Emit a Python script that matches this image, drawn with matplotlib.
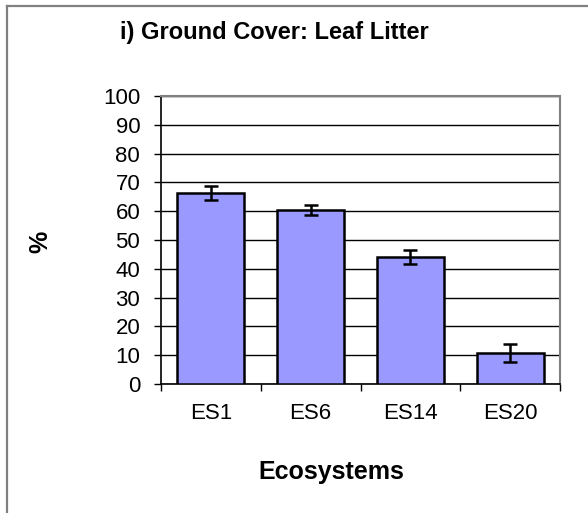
import numpy as np
import matplotlib.pyplot as plt
from matplotlib.lines import Line2D

# Data
categories = ["ES1", "ES6", "ES14", "ES20"]
values = [66.2, 60.4, 44.2, 10.8]
errors = [2.4, 1.6, 2.4, 3.0]
yticks = list(range(0, 101, 10))

plt.rcParams['font.family'] = ['Liberation Sans', 'DejaVu Sans']

fig = plt.figure(figsize=(5.88, 5.13), dpi=100)
W, H = 588, 513

# Plot area in pixel coordinates
ax = fig.add_axes([161 / W, (H - 384) / H, (560 - 161) / W, (384 - 96) / H])

x = np.arange(len(categories))
ax.bar(x, values, width=0.67, color='#9999FF', edgecolor='black', linewidth=1.8, zorder=3)
ax.errorbar(x, values, yerr=errors, fmt='none', ecolor='black', elinewidth=1.8,
            capsize=5, capthick=1.8, zorder=4)

ax.set_xlim(-0.5, len(categories) - 0.5)
ax.set_ylim(0, 100)
ax.set_yticks(yticks)
ax.set_yticklabels([str(t) for t in yticks], fontsize=16)
ax.yaxis.grid(True, color='black', linewidth=1.0, zorder=0)
ax.set_axisbelow(True)

# Category labels centred, ticks at category boundaries
ax.set_xticks(x)
ax.set_xticklabels(categories, fontsize=16)
ax.tick_params(axis='x', length=0, pad=14)
ax.set_xticks(np.arange(-0.5, len(categories), 1), minor=True)
ax.tick_params(axis='x', which='minor', length=5, width=1, color='black', direction='out')
ax.tick_params(axis='y', length=5, width=1, color='black', direction='out', pad=10)

for side in ['top', 'right']:
    ax.spines[side].set_color('#808080')
    ax.spines[side].set_linewidth(1.5)
for side in ['left', 'bottom']:
    ax.spines[side].set_color('black')
    ax.spines[side].set_linewidth(1.2)

# Titles placed in figure pixel coordinates
fig.text(274 / W, 1 - 39 / H, "i) Ground Cover: Leaf Litter", fontsize=17,
         fontweight='bold', ha='center', va='baseline')
fig.text(331 / W, 1 - 479 / H, "Ecosystems", fontsize=18,
         fontweight='bold', ha='center', va='baseline')
fig.text(40 / W, 1 - 242 / H, "%", fontsize=18, fontweight='bold',
         rotation=90, ha='center', va='center')

# Outer chart border (only top and left edges visible)
fig.add_artist(Line2D([7 / W, 1], [1 - 6 / H, 1 - 6 / H], transform=fig.transFigure,
                      color='#808080', linewidth=1.6))
fig.add_artist(Line2D([7 / W, 7 / W], [0, 1 - 6 / H], transform=fig.transFigure,
                      color='#808080', linewidth=1.6))

fig.savefig("out.png", dpi=100)
